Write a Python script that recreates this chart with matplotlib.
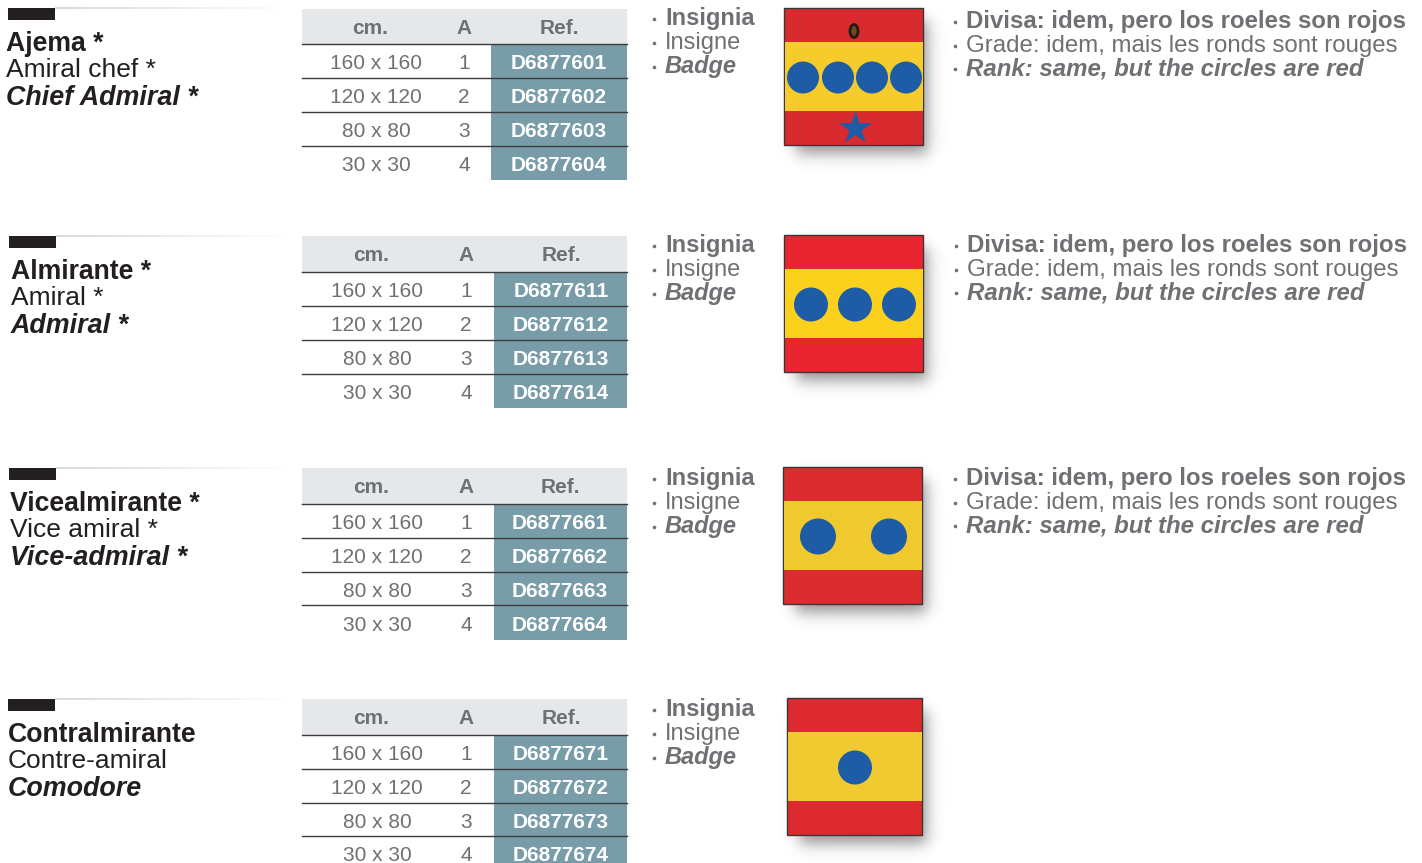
import numpy as np
import matplotlib
matplotlib.use('Agg')
import matplotlib.pyplot as plt
from matplotlib.patches import Rectangle, Circle, Ellipse

plt.rcParams['font.family'] = ['Liberation Sans', 'DejaVu Sans']

# datos
names_es = ["Ajema *", "Almirante *", "Vicealmirante *", "Contralmirante"]
names_fr = ["Amiral chef *", "Amiral *", "Vice amiral *", "Contre-amiral"]
names_en = ["Chief Admiral *", "Admiral *", "Vice-admiral *", "Comodore"]
headers = ["cm.", "A", "Ref."]
sizes = ["160 x 160", "120 x 120", "80 x 80", "30 x 30"]
a_values = ["1", "2", "3", "4"]
refs = [
    ["D6877601", "D6877602", "D6877603", "D6877604"],
    ["D6877611", "D6877612", "D6877613", "D6877614"],
    ["D6877661", "D6877662", "D6877663", "D6877664"],
    ["D6877671", "D6877672", "D6877673", "D6877674"],
]
badge_labels = ["Insignia", "Insigne", "Badge"]
rank_labels = ["Divisa: idem, pero los roeles son rojos",
               "Grade: idem, mais les ronds sont rouges",
               "Rank: same, but the circles are red"]

GREY = '#6f7073'
TEAL = '#789da9'
HEAD = '#e6e7e8'
BLUE = '#1f5ca6'

# posiciones en pixeles de cada bloque
bar_x = [8, 9, 9, 8]
bar_y = [8, 236, 468, 699]
name_x = [6, 11, 10, 8]
name_base = [50, 278, 510, 741]
table_top = [9, 236, 468, 699]
row_lines = [[44, 78, 112, 146, 180], [272, 306, 340, 374, 408],
             [504, 538, 572, 605, 640], [735, 769, 803, 836, 870]]
ref_x = [491, 494, 494, 494]
col_cm = [376, 377, 377, 377]
col_a = [464, 466, 466, 466]
col_ref = [559, 561, 560, 561]
badge_x = [665, 665, 665, 665]
badge_base = [25, 252, 485, 716]
rank_x = [966, 967, 966, None]
rank_base = [28, 252, 485, None]
flag_box = [(784, 8, 923, 145), (784, 235, 923, 372),
            (783, 467, 922, 604), (787, 698, 922, 835)]
flag_red = ['#d92a30', '#e9252f', '#db2d30', '#dc2a2e']
flag_yel = ['#f5cc2c', '#fbd11e', '#f0c92e', '#efca30']
circles_x = [[803, 838, 872, 906], [811, 855, 899], [818, 889], [855]]
circle_r = [16, 17, 18, 17]


def soft_shadow(x0, y0, x1, y1):
    # sombra difusa abajo a la derecha
    xs = np.arange(x0 - 10, x1 + 40)
    ys = np.arange(y0 - 10, y1 + 45)
    fx = 0.5 * (np.tanh((xs - x0 - 12) / 9) - np.tanh((xs - x1 - 5) / 9))
    fy = 0.5 * (np.tanh((ys - y0 - 12) / 9) - np.tanh((ys - y1 - 9) / 9))
    img = np.zeros((len(ys), len(xs), 4))
    img[..., 3] = 0.42 * np.outer(fy, fx)
    ax.imshow(img, extent=(xs[0], xs[-1], ys[-1], ys[0]), aspect='auto', zorder=4)


fig = plt.figure(figsize=(14.22, 8.63), dpi=100)
ax = fig.add_axes([0, 0, 1, 1])

for i in range(4):
    # barra y linea superior
    ax.add_patch(Rectangle((bar_x[i], bar_y[i]), 47, 12, color='#231f20', lw=0))
    grad = np.linspace(0.85, 1, 256).reshape(1, -1)
    ax.imshow(grad, cmap='gray', vmin=0, vmax=1, aspect='auto', zorder=0,
              extent=(bar_x[i] + 47, 300, bar_y[i] + 1, bar_y[i] - 1))

    # nombres
    ax.text(name_x[i], name_base[i] + 1, names_es[i], fontsize=19.2, fontweight='bold', color='#231f20')
    ax.text(name_x[i], name_base[i] + 27, names_fr[i], fontsize=19, color='#231f20')
    ax.text(name_x[i], name_base[i] + 55, names_en[i], fontsize=19.4, fontweight='bold',
            fontstyle='italic', color='#231f20')

    # tabla
    lines = row_lines[i]
    ax.add_patch(Rectangle((302, table_top[i]), 325, lines[0] - table_top[i], color=HEAD, lw=0))
    head_y = (table_top[i] + lines[0]) / 2 + 1.5
    for x, h in zip([col_cm[i] - 6, col_a[i], col_ref[i]], headers):
        ax.text(x, head_y, h, fontsize=15, fontweight='bold', color=GREY, ha='center', va='center')
    for r in range(4):
        y0, y1 = lines[r], lines[r + 1]
        ax.add_patch(Rectangle((ref_x[i], y0), 627 - ref_x[i], y1 - y0, color=TEAL, lw=0))
        mid = (y0 + y1) / 2 + 2.6
        ax.text(col_cm[i], mid, sizes[r], fontsize=15, color=GREY, ha='center', va='center')
        ax.text(col_a[i], mid, a_values[r], fontsize=15, color=GREY, ha='center', va='center')
        ax.text(col_ref[i], mid, refs[i][r], fontsize=15, fontweight='bold', color='white',
                ha='center', va='center')
    for y in lines[:4]:
        ax.plot([302, 627], [y, y], color='#3c3c3e', lw=1, zorder=3)

    # insignia
    for k, (txt, w, st) in enumerate(zip(badge_labels, ['bold', 'normal', 'bold'],
                                         ['normal', 'normal', 'italic'])):
        by = badge_base[i] + 24 * k
        ax.plot([badge_x[i] - 11], [by - 6], 'o', ms=2.6, color=GREY, mew=0)
        ax.text(badge_x[i], by, txt, fontsize=17, fontweight=w, fontstyle=st, color=GREY)

    # divisa
    if rank_x[i] is not None:
        for k, (txt, w, st) in enumerate(zip(rank_labels, ['bold', 'normal', 'bold'],
                                             ['normal', 'normal', 'italic'])):
            by = rank_base[i] + 23.6 * k
            ax.plot([rank_x[i] - 11], [by - 6], 'o', ms=2.6, color=GREY, mew=0)
            ax.text(rank_x[i], by, txt, fontsize=17.3, fontweight=w, fontstyle=st, color=GREY)

    # bandera con sombra
    x0, y0, x1, y1 = flag_box[i]
    w, h = x1 - x0, y1 - y0
    soft_shadow(x0, y0, x1, y1)
    ax.add_patch(Rectangle((x0, y0), w, h, facecolor=flag_red[i], edgecolor='#3a3536', lw=1, zorder=5))
    ax.add_patch(Rectangle((x0 + 0.5, y0 + h * 0.25), w - 1, h * 0.5, color=flag_yel[i], lw=0, zorder=6))
    cy = y0 + h / 2 + 1
    for cx in circles_x[i]:
        ax.add_patch(Circle((cx, cy), circle_r[i], color=BLUE, lw=0, zorder=7))
    if i == 0:
        ax.scatter([855], [128], marker='*', s=620, color=BLUE, lw=0, zorder=7)
        ax.add_patch(Ellipse((854, 31), 8, 13, facecolor='#6b4a1e', edgecolor='#241a12', lw=2, zorder=7))

ax.set_xlim(0, 1422)
ax.set_ylim(863, 0)
ax.axis('off')

plt.savefig('out.png', dpi=100)
